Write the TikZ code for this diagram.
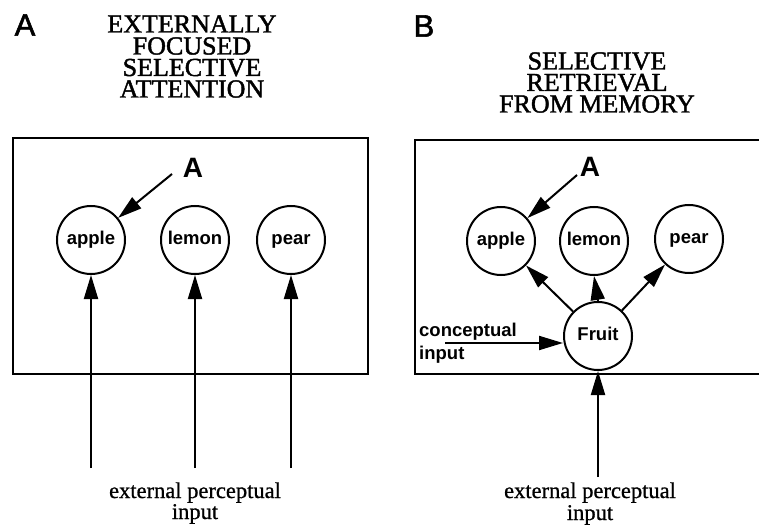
\documentclass[tikz,border=0pt]{standalone}
\usepackage{fontspec}
\setmainfont{Liberation Serif}
\setsansfont{Liberation Sans}
\newfontfamily\headfont{Liberation Serif}[FakeBold=1.6]
\newfontfamily\capfont{Liberation Serif}[FakeBold=0.8]
\newfontfamily\tagfont{Liberation Sans}[FakeBold=1.8]
\usetikzlibrary{arrows.meta}
\begin{document}
\begin{tikzpicture}[x=1pt,y=-1pt,
  concept/.style={circle, draw, line width=2pt, minimum size=68pt, inner sep=0pt,
    text height=13.5pt, text depth=4pt,
    font=\sffamily\bfseries\fontsize{18.5}{18.5}\selectfont},
  link/.style={line width=2pt, -{Triangle[length=24pt,width=14pt]}},
  frame/.style={line width=2pt},
  heading/.style={font=\headfont\fontsize{26}{26}\selectfont, inner sep=0pt,
    text height=17pt, text depth=0pt},
  panel/.style={font=\tagfont\fontsize{31}{31}\selectfont},
  attn/.style={font=\sffamily\bfseries\fontsize{28}{28}\selectfont},
  caption/.style={font=\capfont\fontsize{22.5}{22.5}\selectfont, inner sep=0pt,
    text height=14pt, text depth=4pt},
  side/.style={font=\sffamily\bfseries\fontsize{18.5}{18.5}\selectfont, inner sep=0pt, anchor=base west}
]
\clip (0,0) rectangle (759,526);
\fill[white] (0,0) rectangle (759,526);

% ---------- panel A: externally focused selective attention ----------
\node[panel] (labA) at (25,25) {A};
\node[heading] (headA1) at (192,24) {EXTERNALLY};
\node[heading] (headA2) at (192,46) {FOCUSED};
\node[heading] (headA3) at (192,67.5) {SELECTIVE};
\node[heading] (headA4) at (192,89) {ATTENTION};
\draw[frame] (13,138) rectangle (368,374);

\node[concept] (appleA) at (91,240) {apple};
\node[concept] (lemonA) at (195,240) {lemon};
\node[concept] (pearA)  at (291,240) {pear};

\node[attn] (attA) at (193,168) {A};
\coordinate (attAs) at (172,174);
\draw[link] (attAs) -- (appleA);

\coordinate (inA1) at (91,468);
\coordinate (inA2) at (195,468);
\coordinate (inA3) at (291,468);
\draw[link] (inA1) -- (appleA);
\draw[link] (inA2) -- (lemonA);
\draw[link] (inA3) -- (pearA);
\node[caption] (capA1) at (195,493) {external perceptual};
\node[caption] (capA2) at (195,514) {input};

% ---------- panel B: selective retrieval from memory ----------
\node[panel] (labB) at (424,26) {B};
\node[heading] (headB1) at (597,61) {SELECTIVE};
\node[heading] (headB2) at (597,82.5) {RETRIEVAL};
\node[heading] (headB3) at (597,104) {FROM MEMORY};
\draw[frame] (415,140) rectangle (770,374);

\node[concept] (appleB) at (501,241) {apple};
\node[concept] (lemonB) at (594,241) {lemon};
\node[concept] (pearB)  at (689,239) {pear};
\node[concept] (fruit)  at (598,336) {Fruit};

\node[attn] (attB) at (590,167) {A};
\coordinate (attBs) at (577,175);
\draw[link] (attBs) -- (appleB);

\draw[link] (fruit) -- (appleB);
\draw[link] (fruit.north) -- (lemonB.south);
\draw[link] (fruit) -- (pearB);

\node[side] (concept1) at (419,336) {conceptual};
\node[side] (concept2) at (419,359) {input};
\coordinate (cinB) at (445,343);
\draw[link] (cinB) -- (fruit.west |- cinB);

\coordinate (inB) at (598,477);
\draw[link] (inB) -- (fruit.south);
\node[caption] (capB1) at (590,493) {external perceptual};
\node[caption] (capB2) at (590,515) {input};
\end{tikzpicture}
\end{document}
